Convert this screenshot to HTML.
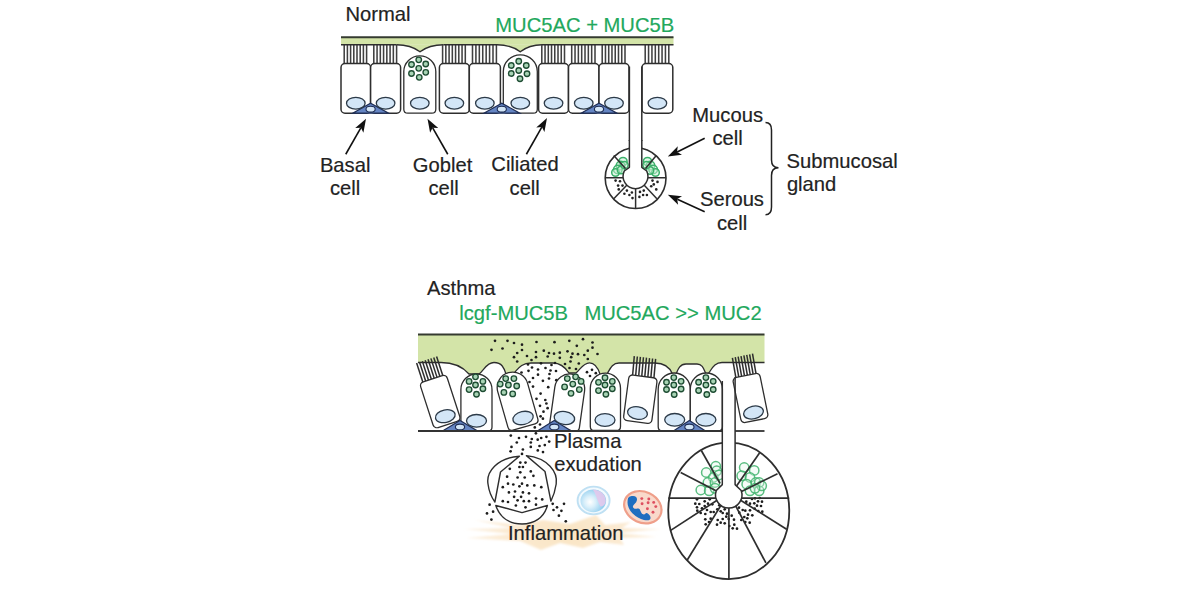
<!DOCTYPE html>
<html><head><meta charset="utf-8"><style>
html,body{margin:0;padding:0;background:#fff;width:1200px;height:600px;overflow:hidden}
svg{display:block;font-family:"Liberation Sans",sans-serif}
</style></head><body>
<svg width="1200" height="600" viewBox="0 0 1200 600">
<rect x="341" y="37.2" width="332.5" height="7.599999999999994" fill="#d3e4a8"/>
<path d="M396.5 44.8 C406.5 44.8 414 47.3 420 51.8 C426 47.3 433.5 44.8 443.5 44.8 Z" fill="#d3e4a8"/>
<path d="M396.5 44.8 C406.5 44.8 414 47.3 420 51.8 C426 47.3 433.5 44.8 443.5 44.8" fill="none" stroke="#2e2e2e" stroke-width="1.4"/>
<path d="M497 44.8 C507 44.8 514.2 47.3 520.2 51.8 C526.2 47.3 532 44.8 542 44.8 Z" fill="#d3e4a8"/>
<path d="M497 44.8 C507 44.8 514.2 47.3 520.2 51.8 C526.2 47.3 532 44.8 542 44.8" fill="none" stroke="#2e2e2e" stroke-width="1.4"/>
<line x1="341" y1="37.2" x2="673.5" y2="37.2" stroke="#353b30" stroke-width="2"/>
<line x1="344.2" y1="44.8" x2="344.2" y2="63.6" stroke="#404040" stroke-width="1.55"/>
<line x1="347.4" y1="44.8" x2="347.4" y2="63.6" stroke="#404040" stroke-width="1.55"/>
<line x1="350.6" y1="44.8" x2="350.6" y2="63.6" stroke="#404040" stroke-width="1.55"/>
<line x1="353.8" y1="44.8" x2="353.8" y2="63.6" stroke="#404040" stroke-width="1.55"/>
<line x1="357" y1="44.8" x2="357" y2="63.6" stroke="#404040" stroke-width="1.55"/>
<line x1="360.2" y1="44.8" x2="360.2" y2="63.6" stroke="#404040" stroke-width="1.55"/>
<line x1="363.4" y1="44.8" x2="363.4" y2="63.6" stroke="#404040" stroke-width="1.55"/>
<line x1="366.6" y1="44.8" x2="366.6" y2="63.6" stroke="#404040" stroke-width="1.55"/>
<line x1="373.8" y1="44.8" x2="373.8" y2="63.6" stroke="#404040" stroke-width="1.55"/>
<line x1="377.06" y1="44.8" x2="377.06" y2="63.6" stroke="#404040" stroke-width="1.55"/>
<line x1="380.31" y1="44.8" x2="380.31" y2="63.6" stroke="#404040" stroke-width="1.55"/>
<line x1="383.57" y1="44.8" x2="383.57" y2="63.6" stroke="#404040" stroke-width="1.55"/>
<line x1="386.83" y1="44.8" x2="386.83" y2="63.6" stroke="#404040" stroke-width="1.55"/>
<line x1="390.09" y1="44.8" x2="390.09" y2="63.6" stroke="#404040" stroke-width="1.55"/>
<line x1="393.34" y1="44.8" x2="393.34" y2="63.6" stroke="#404040" stroke-width="1.55"/>
<line x1="396.6" y1="44.8" x2="396.6" y2="63.6" stroke="#404040" stroke-width="1.55"/>
<line x1="442.6" y1="44.8" x2="442.6" y2="63.6" stroke="#404040" stroke-width="1.55"/>
<line x1="445.84" y1="44.8" x2="445.84" y2="63.6" stroke="#404040" stroke-width="1.55"/>
<line x1="449.09" y1="44.8" x2="449.09" y2="63.6" stroke="#404040" stroke-width="1.55"/>
<line x1="452.33" y1="44.8" x2="452.33" y2="63.6" stroke="#404040" stroke-width="1.55"/>
<line x1="455.57" y1="44.8" x2="455.57" y2="63.6" stroke="#404040" stroke-width="1.55"/>
<line x1="458.81" y1="44.8" x2="458.81" y2="63.6" stroke="#404040" stroke-width="1.55"/>
<line x1="462.06" y1="44.8" x2="462.06" y2="63.6" stroke="#404040" stroke-width="1.55"/>
<line x1="465.3" y1="44.8" x2="465.3" y2="63.6" stroke="#404040" stroke-width="1.55"/>
<line x1="472.5" y1="44.8" x2="472.5" y2="63.6" stroke="#404040" stroke-width="1.55"/>
<line x1="475.91" y1="44.8" x2="475.91" y2="63.6" stroke="#404040" stroke-width="1.55"/>
<line x1="479.33" y1="44.8" x2="479.33" y2="63.6" stroke="#404040" stroke-width="1.55"/>
<line x1="482.74" y1="44.8" x2="482.74" y2="63.6" stroke="#404040" stroke-width="1.55"/>
<line x1="486.16" y1="44.8" x2="486.16" y2="63.6" stroke="#404040" stroke-width="1.55"/>
<line x1="489.57" y1="44.8" x2="489.57" y2="63.6" stroke="#404040" stroke-width="1.55"/>
<line x1="492.99" y1="44.8" x2="492.99" y2="63.6" stroke="#404040" stroke-width="1.55"/>
<line x1="496.4" y1="44.8" x2="496.4" y2="63.6" stroke="#404040" stroke-width="1.55"/>
<line x1="541.8" y1="44.8" x2="541.8" y2="63.6" stroke="#404040" stroke-width="1.55"/>
<line x1="545.04" y1="44.8" x2="545.04" y2="63.6" stroke="#404040" stroke-width="1.55"/>
<line x1="548.29" y1="44.8" x2="548.29" y2="63.6" stroke="#404040" stroke-width="1.55"/>
<line x1="551.53" y1="44.8" x2="551.53" y2="63.6" stroke="#404040" stroke-width="1.55"/>
<line x1="554.77" y1="44.8" x2="554.77" y2="63.6" stroke="#404040" stroke-width="1.55"/>
<line x1="558.01" y1="44.8" x2="558.01" y2="63.6" stroke="#404040" stroke-width="1.55"/>
<line x1="561.26" y1="44.8" x2="561.26" y2="63.6" stroke="#404040" stroke-width="1.55"/>
<line x1="564.5" y1="44.8" x2="564.5" y2="63.6" stroke="#404040" stroke-width="1.55"/>
<line x1="571.7" y1="44.8" x2="571.7" y2="63.6" stroke="#404040" stroke-width="1.55"/>
<line x1="575.03" y1="44.8" x2="575.03" y2="63.6" stroke="#404040" stroke-width="1.55"/>
<line x1="578.36" y1="44.8" x2="578.36" y2="63.6" stroke="#404040" stroke-width="1.55"/>
<line x1="581.69" y1="44.8" x2="581.69" y2="63.6" stroke="#404040" stroke-width="1.55"/>
<line x1="585.01" y1="44.8" x2="585.01" y2="63.6" stroke="#404040" stroke-width="1.55"/>
<line x1="588.34" y1="44.8" x2="588.34" y2="63.6" stroke="#404040" stroke-width="1.55"/>
<line x1="591.67" y1="44.8" x2="591.67" y2="63.6" stroke="#404040" stroke-width="1.55"/>
<line x1="595" y1="44.8" x2="595" y2="63.6" stroke="#404040" stroke-width="1.55"/>
<line x1="602.2" y1="44.8" x2="602.2" y2="63.6" stroke="#404040" stroke-width="1.55"/>
<line x1="605.46" y1="44.8" x2="605.46" y2="63.6" stroke="#404040" stroke-width="1.55"/>
<line x1="608.71" y1="44.8" x2="608.71" y2="63.6" stroke="#404040" stroke-width="1.55"/>
<line x1="611.97" y1="44.8" x2="611.97" y2="63.6" stroke="#404040" stroke-width="1.55"/>
<line x1="615.23" y1="44.8" x2="615.23" y2="63.6" stroke="#404040" stroke-width="1.55"/>
<line x1="618.49" y1="44.8" x2="618.49" y2="63.6" stroke="#404040" stroke-width="1.55"/>
<line x1="621.74" y1="44.8" x2="621.74" y2="63.6" stroke="#404040" stroke-width="1.55"/>
<line x1="625" y1="44.8" x2="625" y2="63.6" stroke="#404040" stroke-width="1.55"/>
<line x1="645.2" y1="44.8" x2="645.2" y2="63.6" stroke="#404040" stroke-width="1.55"/>
<line x1="648.57" y1="44.8" x2="648.57" y2="63.6" stroke="#404040" stroke-width="1.55"/>
<line x1="651.94" y1="44.8" x2="651.94" y2="63.6" stroke="#404040" stroke-width="1.55"/>
<line x1="655.31" y1="44.8" x2="655.31" y2="63.6" stroke="#404040" stroke-width="1.55"/>
<line x1="658.69" y1="44.8" x2="658.69" y2="63.6" stroke="#404040" stroke-width="1.55"/>
<line x1="662.06" y1="44.8" x2="662.06" y2="63.6" stroke="#404040" stroke-width="1.55"/>
<line x1="665.43" y1="44.8" x2="665.43" y2="63.6" stroke="#404040" stroke-width="1.55"/>
<line x1="668.8" y1="44.8" x2="668.8" y2="63.6" stroke="#404040" stroke-width="1.55"/>
<line x1="341" y1="44.8" x2="396.5" y2="44.8" stroke="#2e2e2e" stroke-width="1.4"/>
<line x1="443.5" y1="44.8" x2="497" y2="44.8" stroke="#2e2e2e" stroke-width="1.4"/>
<line x1="542" y1="44.8" x2="673.5" y2="44.8" stroke="#2e2e2e" stroke-width="1.4"/>
<rect x="341" y="63.6" width="29.6" height="49.6" rx="4" fill="#fff" stroke="#2e2e2e" stroke-width="1.5" />
<rect x="370.6" y="63.6" width="30" height="49.6" rx="4" fill="#fff" stroke="#2e2e2e" stroke-width="1.5" />
<path d="M403.8 109.2 L403.8 71.6 A16 15.68 0 0 1 435.8 71.6 L435.8 109.2 Q435.8 113.2 431.8 113.2 L407.8 113.2 Q403.8 113.2 403.8 109.2 Z" fill="#fff" stroke="#2e2e2e" stroke-width="1.3"/>
<rect x="439.4" y="63.6" width="29.9" height="49.6" rx="4" fill="#fff" stroke="#2e2e2e" stroke-width="1.5" />
<rect x="469.3" y="63.6" width="31.1" height="49.6" rx="4" fill="#fff" stroke="#2e2e2e" stroke-width="1.5" />
<path d="M503.3 109.2 L503.3 71.6 A17 16.66 0 0 1 537.3 71.6 L537.3 109.2 Q537.3 113.2 533.3 113.2 L507.3 113.2 Q503.3 113.2 503.3 109.2 Z" fill="#fff" stroke="#2e2e2e" stroke-width="1.3"/>
<rect x="538.6" y="63.6" width="29.9" height="49.6" rx="4" fill="#fff" stroke="#2e2e2e" stroke-width="1.5" />
<rect x="568.5" y="63.6" width="30.5" height="49.6" rx="4" fill="#fff" stroke="#2e2e2e" stroke-width="1.5" />
<rect x="599" y="63.6" width="30" height="49.6" rx="4" fill="#fff" stroke="#2e2e2e" stroke-width="1.5" />
<rect x="642" y="63.6" width="30.8" height="49.6" rx="4" fill="#fff" stroke="#2e2e2e" stroke-width="1.5" />
<circle cx="418.75" cy="59.8" r="2.75" fill="#a8d4b5" stroke="#1e4d33" stroke-width="1.35"/>
<circle cx="411.5" cy="64.5" r="2.75" fill="#a8d4b5" stroke="#1e4d33" stroke-width="1.35"/>
<circle cx="425.75" cy="64" r="2.75" fill="#a8d4b5" stroke="#1e4d33" stroke-width="1.35"/>
<circle cx="418.75" cy="68.3" r="2.75" fill="#a8d4b5" stroke="#1e4d33" stroke-width="1.35"/>
<circle cx="411.5" cy="73.5" r="2.75" fill="#a8d4b5" stroke="#1e4d33" stroke-width="1.35"/>
<circle cx="425.75" cy="72.3" r="2.75" fill="#a8d4b5" stroke="#1e4d33" stroke-width="1.35"/>
<circle cx="419.25" cy="77.3" r="2.75" fill="#a8d4b5" stroke="#1e4d33" stroke-width="1.35"/>
<circle cx="518.75" cy="61.25" r="2.75" fill="#a8d4b5" stroke="#1e4d33" stroke-width="1.35"/>
<circle cx="511.25" cy="65.5" r="2.75" fill="#a8d4b5" stroke="#1e4d33" stroke-width="1.35"/>
<circle cx="526.25" cy="65.5" r="2.75" fill="#a8d4b5" stroke="#1e4d33" stroke-width="1.35"/>
<circle cx="518.75" cy="70.5" r="2.75" fill="#a8d4b5" stroke="#1e4d33" stroke-width="1.35"/>
<circle cx="511.25" cy="73.5" r="2.75" fill="#a8d4b5" stroke="#1e4d33" stroke-width="1.35"/>
<circle cx="527" cy="73.75" r="2.75" fill="#a8d4b5" stroke="#1e4d33" stroke-width="1.35"/>
<circle cx="520" cy="78.75" r="2.75" fill="#a8d4b5" stroke="#1e4d33" stroke-width="1.35"/>
<path d="M352.6 113.2 L370.6 103.2 L388.6 113.2 Z" fill="#6585c3" stroke="#1f2e55" stroke-width="1.2"/>
<ellipse cx="370.6" cy="109.2" rx="4.6" ry="2.9" fill="#d3e6f7" stroke="#1f2e55" stroke-width="1.1"/>
<path d="M483.8 113.2 L501.8 103.2 L519.8 113.2 Z" fill="#6585c3" stroke="#1f2e55" stroke-width="1.2"/>
<ellipse cx="501.8" cy="109.2" rx="4.6" ry="2.9" fill="#d3e6f7" stroke="#1f2e55" stroke-width="1.1"/>
<path d="M581 113.2 L599 103.2 L617 113.2 Z" fill="#6585c3" stroke="#1f2e55" stroke-width="1.2"/>
<ellipse cx="599" cy="109.2" rx="4.6" ry="2.9" fill="#d3e6f7" stroke="#1f2e55" stroke-width="1.1"/>
<ellipse cx="355.8" cy="103.2" rx="9.3" ry="5.9" fill="#d3e6f7" stroke="#2c3a48" stroke-width="1.3" transform="rotate(0 355.8 103.2)"/>
<ellipse cx="385.6" cy="103.2" rx="9.3" ry="5.9" fill="#d3e6f7" stroke="#2c3a48" stroke-width="1.3" transform="rotate(0 385.6 103.2)"/>
<ellipse cx="419.8" cy="103.2" rx="9.3" ry="5.9" fill="#d3e6f7" stroke="#2c3a48" stroke-width="1.3" transform="rotate(0 419.8 103.2)"/>
<ellipse cx="454.35" cy="103.2" rx="9.3" ry="5.9" fill="#d3e6f7" stroke="#2c3a48" stroke-width="1.3" transform="rotate(0 454.35 103.2)"/>
<ellipse cx="484.85" cy="103.2" rx="9.3" ry="5.9" fill="#d3e6f7" stroke="#2c3a48" stroke-width="1.3" transform="rotate(0 484.85 103.2)"/>
<ellipse cx="520.3" cy="103.2" rx="9.3" ry="5.9" fill="#d3e6f7" stroke="#2c3a48" stroke-width="1.3" transform="rotate(0 520.3 103.2)"/>
<ellipse cx="553.55" cy="103.2" rx="9.3" ry="5.9" fill="#d3e6f7" stroke="#2c3a48" stroke-width="1.3" transform="rotate(0 553.55 103.2)"/>
<ellipse cx="583.75" cy="103.2" rx="9.3" ry="5.9" fill="#d3e6f7" stroke="#2c3a48" stroke-width="1.3" transform="rotate(0 583.75 103.2)"/>
<ellipse cx="614" cy="103.2" rx="9.3" ry="5.9" fill="#d3e6f7" stroke="#2c3a48" stroke-width="1.3" transform="rotate(0 614 103.2)"/>
<ellipse cx="657.4" cy="103.2" rx="9.3" ry="5.9" fill="#d3e6f7" stroke="#2c3a48" stroke-width="1.3" transform="rotate(0 657.4 103.2)"/>
<line x1="629.4" y1="66.6" x2="629.4" y2="141" stroke="#2e2e2e" stroke-width="1.5"/>
<line x1="641.8" y1="66.6" x2="641.8" y2="141" stroke="#2e2e2e" stroke-width="1.5"/>
<circle cx="635.6" cy="178.1" r="30.4" fill="#fff" stroke="#2e2e2e" stroke-width="1.6"/>
<defs><filter id="bl" x="-20%" y="-20%" width="140%" height="140%"><feGaussianBlur stdDeviation="0.45"/></filter></defs>
<g filter="url(#bl)">
<circle cx="623" cy="161.5" r="4.1" fill="#c9f0d4" fill-opacity="0.5" stroke="#3bb06a" stroke-width="1.5"/>
<circle cx="620.5" cy="165.5" r="4.3" fill="#c9f0d4" fill-opacity="0.5" stroke="#3bb06a" stroke-width="1.5"/>
<circle cx="617.8" cy="169.5" r="4.3" fill="#c9f0d4" fill-opacity="0.5" stroke="#3bb06a" stroke-width="1.5"/>
<circle cx="615.5" cy="172.5" r="3.8" fill="#c9f0d4" fill-opacity="0.5" stroke="#3bb06a" stroke-width="1.5"/>
<circle cx="621" cy="170" r="3.7" fill="#c9f0d4" fill-opacity="0.5" stroke="#3bb06a" stroke-width="1.5"/>
<circle cx="624.5" cy="165" r="3.6" fill="#c9f0d4" fill-opacity="0.5" stroke="#3bb06a" stroke-width="1.5"/>
<circle cx="647.5" cy="161.5" r="4.1" fill="#c9f0d4" fill-opacity="0.5" stroke="#3bb06a" stroke-width="1.5"/>
<circle cx="650.5" cy="165.5" r="4.3" fill="#c9f0d4" fill-opacity="0.5" stroke="#3bb06a" stroke-width="1.5"/>
<circle cx="653.2" cy="169.5" r="4.3" fill="#c9f0d4" fill-opacity="0.5" stroke="#3bb06a" stroke-width="1.5"/>
<circle cx="655.5" cy="172.5" r="3.8" fill="#c9f0d4" fill-opacity="0.5" stroke="#3bb06a" stroke-width="1.5"/>
<circle cx="650" cy="170.5" r="3.7" fill="#c9f0d4" fill-opacity="0.5" stroke="#3bb06a" stroke-width="1.5"/>
<circle cx="646.5" cy="165" r="3.6" fill="#c9f0d4" fill-opacity="0.5" stroke="#3bb06a" stroke-width="1.5"/>
</g>
<line x1="613.75" y1="155.6" x2="625.5" y2="168.5" stroke="#2e2e2e" stroke-width="1.5"/>
<line x1="605.25" y1="177.75" x2="624" y2="177.75" stroke="#2e2e2e" stroke-width="1.5"/>
<line x1="613.75" y1="198.75" x2="627" y2="185" stroke="#2e2e2e" stroke-width="1.5"/>
<line x1="635.6" y1="208.5" x2="635.6" y2="186" stroke="#2e2e2e" stroke-width="1.5"/>
<line x1="656.9" y1="198.75" x2="644" y2="185" stroke="#2e2e2e" stroke-width="1.5"/>
<line x1="666" y1="177.75" x2="647" y2="177.75" stroke="#2e2e2e" stroke-width="1.5"/>
<line x1="656.25" y1="155.6" x2="645.5" y2="168.5" stroke="#2e2e2e" stroke-width="1.5"/>
<path d="M629.4 140 L629.4 167.3 L624.3 171 A12.4 12.4 0 1 0 646.7 171 L641.8 167.3 L641.8 140" fill="#fff" stroke="#2e2e2e" stroke-width="1.5" stroke-linejoin="round"/>
<circle cx="615.6" cy="180.6" r="1.3" fill="#222"/>
<circle cx="620" cy="181.25" r="1.3" fill="#222"/>
<circle cx="618.1" cy="185.6" r="1.3" fill="#222"/>
<circle cx="622.5" cy="185.6" r="1.3" fill="#222"/>
<circle cx="618.75" cy="189.4" r="1.3" fill="#222"/>
<circle cx="626.9" cy="190.6" r="1.3" fill="#222"/>
<circle cx="624.4" cy="193.75" r="1.3" fill="#222"/>
<circle cx="629.4" cy="195" r="1.3" fill="#222"/>
<circle cx="631.9" cy="192.5" r="1.3" fill="#222"/>
<circle cx="632.5" cy="198.1" r="1.3" fill="#222"/>
<circle cx="640" cy="191.9" r="1.3" fill="#222"/>
<circle cx="643.75" cy="190.6" r="1.3" fill="#222"/>
<circle cx="643.1" cy="195" r="1.3" fill="#222"/>
<circle cx="639.4" cy="196.9" r="1.3" fill="#222"/>
<circle cx="646.9" cy="195" r="1.3" fill="#222"/>
<circle cx="652.5" cy="180.6" r="1.3" fill="#222"/>
<circle cx="657.5" cy="181.9" r="1.3" fill="#222"/>
<circle cx="653.75" cy="184.4" r="1.3" fill="#222"/>
<circle cx="651.25" cy="186.25" r="1.3" fill="#222"/>
<circle cx="656.25" cy="189.4" r="1.3" fill="#222"/>
<line x1="345.75" y1="154.25" x2="360.8" y2="127.82" stroke="#111" stroke-width="1.6"/>
<path d="M366 118.7 L363.4 132.76 L360.9 127.65 L355.23 128.1 Z" fill="#111"/>
<line x1="447.75" y1="154.25" x2="432.7" y2="127.82" stroke="#111" stroke-width="1.6"/>
<path d="M427.5 118.7 L438.27 128.1 L432.6 127.65 L430.1 132.76 Z" fill="#111"/>
<line x1="526.4" y1="154.25" x2="541.81" y2="127.13" stroke="#111" stroke-width="1.6"/>
<path d="M547 118 L544.42 132.06 L541.91 126.96 L536.24 127.42 Z" fill="#111"/>
<line x1="704.7" y1="138.2" x2="677.2" y2="151.91" stroke="#111" stroke-width="1.6"/>
<path d="M667.8 156.6 L677.78 146.37 L677.02 152 L681.98 154.78 Z" fill="#111"/>
<line x1="704.7" y1="211.8" x2="677.34" y2="199.19" stroke="#111" stroke-width="1.6"/>
<path d="M667.8 194.8 L682.03 196.18 L677.15 199.11 L678.09 204.72 Z" fill="#111"/>
<path d="M765.5 122.6 Q771.5 122.6 771.5 130 L771.5 160 Q771.5 167.8 778.5 167.8 Q771.5 167.8 771.5 175.5 L771.5 207 Q771.5 214.7 765.5 214.7" fill="none" stroke="#222" stroke-width="1.5"/>
<path d="M418 362.5 L441 362.5 C452 362.5 462 366 469 374 L479 374 C484 371 486 362.5 494 362.5 C502 362.5 504 368 506 374 L514 373 C518 369 521 363 531 363 L553 363 C560 363 565 367 569 373 L576 373 C580 370 583 362.8 589.5 362.8 C595 362.8 598 368 600 374 L607 374 C610 369 612 363 619 363 L655 363 C664 363 670 368 672.5 374 L676 374 C678 369 680 364 686 364 L697 364 C703 364 704 370 706 374 L708 374 C712 369 714 362.5 722 362.5 L764.5 362.5 L764.5 334.6 L418 334.6 Z" fill="#d3e4a8"/>
<path d="M418 362.5 L441 362.5 C452 362.5 462 366 469 374 L479 374 C484 371 486 362.5 494 362.5 C502 362.5 504 368 506 374 L514 373 C518 369 521 363 531 363 L553 363 C560 363 565 367 569 373 L576 373 C580 370 583 362.8 589.5 362.8 C595 362.8 598 368 600 374 L607 374 C610 369 612 363 619 363 L655 363 C664 363 670 368 672.5 374 L676 374 C678 369 680 364 686 364 L697 364 C703 364 704 370 706 374 L708 374 C712 369 714 362.5 722 362.5 L764.5 362.5" fill="none" stroke="#2e2e2e" stroke-width="1.3"/>
<line x1="418" y1="334.6" x2="764.5" y2="334.6" stroke="#353b30" stroke-width="2"/>
<circle cx="495" cy="340.8" r="1.35" fill="#1d1d1d"/>
<circle cx="507.5" cy="340.8" r="1.35" fill="#1d1d1d"/>
<circle cx="514" cy="343" r="1.35" fill="#1d1d1d"/>
<circle cx="522" cy="344.7" r="1.35" fill="#1d1d1d"/>
<circle cx="536.5" cy="342" r="1.35" fill="#1d1d1d"/>
<circle cx="554.5" cy="342.2" r="1.35" fill="#1d1d1d"/>
<circle cx="569.3" cy="340.8" r="1.35" fill="#1d1d1d"/>
<circle cx="583" cy="339.2" r="1.35" fill="#1d1d1d"/>
<circle cx="592.5" cy="342.5" r="1.35" fill="#1d1d1d"/>
<circle cx="491.5" cy="349.8" r="1.35" fill="#1d1d1d"/>
<circle cx="502.5" cy="348.5" r="1.35" fill="#1d1d1d"/>
<circle cx="522" cy="350" r="1.35" fill="#1d1d1d"/>
<circle cx="517.2" cy="353" r="1.35" fill="#1d1d1d"/>
<circle cx="536" cy="352" r="1.35" fill="#1d1d1d"/>
<circle cx="543.8" cy="350.7" r="1.35" fill="#1d1d1d"/>
<circle cx="549" cy="353" r="1.35" fill="#1d1d1d"/>
<circle cx="554" cy="353.7" r="1.35" fill="#1d1d1d"/>
<circle cx="559.8" cy="352.7" r="1.35" fill="#1d1d1d"/>
<circle cx="567.5" cy="351.3" r="1.35" fill="#1d1d1d"/>
<circle cx="576.8" cy="345.8" r="1.35" fill="#1d1d1d"/>
<circle cx="592.5" cy="347.7" r="1.35" fill="#1d1d1d"/>
<circle cx="587.8" cy="350.7" r="1.35" fill="#1d1d1d"/>
<circle cx="572.5" cy="353.7" r="1.35" fill="#1d1d1d"/>
<circle cx="578" cy="354.2" r="1.35" fill="#1d1d1d"/>
<circle cx="584.3" cy="355" r="1.35" fill="#1d1d1d"/>
<circle cx="597.5" cy="354" r="1.35" fill="#1d1d1d"/>
<circle cx="514" cy="357.2" r="1.35" fill="#1d1d1d"/>
<circle cx="527" cy="356" r="1.35" fill="#1d1d1d"/>
<circle cx="536" cy="357.2" r="1.35" fill="#1d1d1d"/>
<circle cx="547.7" cy="356.5" r="1.35" fill="#1d1d1d"/>
<circle cx="559.8" cy="357.8" r="1.35" fill="#1d1d1d"/>
<circle cx="571.2" cy="357.2" r="1.35" fill="#1d1d1d"/>
<circle cx="587.8" cy="359" r="1.35" fill="#1d1d1d"/>
<circle cx="517.2" cy="361.5" r="1.35" fill="#1d1d1d"/>
<circle cx="531.5" cy="360" r="1.35" fill="#1d1d1d"/>
<circle cx="570.5" cy="361.5" r="1.35" fill="#1d1d1d"/>
<circle cx="565" cy="364" r="1.35" fill="#1d1d1d"/>
<circle cx="578.8" cy="363.5" r="1.35" fill="#1d1d1d"/>
<circle cx="569.5" cy="368" r="1.35" fill="#1d1d1d"/>
<circle cx="576" cy="369" r="1.35" fill="#1d1d1d"/>
<circle cx="528" cy="364.5" r="1.35" fill="#1d1d1d"/>
<circle cx="541" cy="363.3" r="1.35" fill="#1d1d1d"/>
<circle cx="551.5" cy="365" r="1.35" fill="#1d1d1d"/>
<circle cx="555" cy="363" r="1.35" fill="#1d1d1d"/>
<circle cx="532" cy="367.5" r="1.35" fill="#1d1d1d"/>
<circle cx="538" cy="369.5" r="1.35" fill="#1d1d1d"/>
<circle cx="545.5" cy="368" r="1.35" fill="#1d1d1d"/>
<circle cx="550.5" cy="370.5" r="1.35" fill="#1d1d1d"/>
<circle cx="556" cy="371" r="1.35" fill="#1d1d1d"/>
<circle cx="521.5" cy="372.5" r="1.35" fill="#1d1d1d"/>
<circle cx="528.5" cy="370.8" r="1.35" fill="#1d1d1d"/>
<circle cx="538" cy="374.7" r="1.35" fill="#1d1d1d"/>
<circle cx="549.5" cy="374" r="1.35" fill="#1d1d1d"/>
<circle cx="533" cy="378" r="1.35" fill="#1d1d1d"/>
<circle cx="549" cy="378.5" r="1.35" fill="#1d1d1d"/>
<circle cx="587" cy="372.2" r="1.35" fill="#1d1d1d"/>
<circle cx="592" cy="369.8" r="1.35" fill="#1d1d1d"/>
<circle cx="595.8" cy="373.2" r="1.35" fill="#1d1d1d"/>
<circle cx="590" cy="376" r="1.35" fill="#1d1d1d"/>
<circle cx="529.5" cy="382" r="1.35" fill="#1d1d1d"/>
<circle cx="542.9" cy="380.8" r="1.35" fill="#1d1d1d"/>
<circle cx="556.3" cy="380.2" r="1.35" fill="#1d1d1d"/>
<circle cx="533" cy="386.6" r="1.35" fill="#1d1d1d"/>
<circle cx="548.2" cy="387.2" r="1.35" fill="#1d1d1d"/>
<circle cx="540.6" cy="393.6" r="1.35" fill="#1d1d1d"/>
<circle cx="536.5" cy="398.8" r="1.35" fill="#1d1d1d"/>
<circle cx="545.3" cy="400" r="1.35" fill="#1d1d1d"/>
<circle cx="546.4" cy="403.5" r="1.35" fill="#1d1d1d"/>
<circle cx="540" cy="405.8" r="1.35" fill="#1d1d1d"/>
<circle cx="547.6" cy="408.2" r="1.35" fill="#1d1d1d"/>
<circle cx="543.5" cy="411.7" r="1.35" fill="#1d1d1d"/>
<circle cx="540.6" cy="416.3" r="1.35" fill="#1d1d1d"/>
<circle cx="542.9" cy="418.7" r="1.35" fill="#1d1d1d"/>
<circle cx="540" cy="424.5" r="1.35" fill="#1d1d1d"/>
<circle cx="534.8" cy="427.4" r="1.35" fill="#1d1d1d"/>
<line x1="422.8" y1="382.02" x2="416.62" y2="363" stroke="#2e2e2e" stroke-width="1.5"/>
<line x1="425.65" y1="381.09" x2="419.47" y2="362.07" stroke="#2e2e2e" stroke-width="1.5"/>
<line x1="428.5" y1="380.17" x2="422.32" y2="361.14" stroke="#2e2e2e" stroke-width="1.5"/>
<line x1="431.36" y1="379.24" x2="425.18" y2="360.22" stroke="#2e2e2e" stroke-width="1.5"/>
<line x1="434.21" y1="378.31" x2="428.03" y2="359.29" stroke="#2e2e2e" stroke-width="1.5"/>
<line x1="437.06" y1="377.38" x2="430.88" y2="358.36" stroke="#2e2e2e" stroke-width="1.5"/>
<line x1="439.92" y1="376.46" x2="433.74" y2="357.44" stroke="#2e2e2e" stroke-width="1.5"/>
<line x1="442.77" y1="375.53" x2="436.59" y2="356.51" stroke="#2e2e2e" stroke-width="1.5"/>
<rect x="426.2" y="377.6" width="28" height="48" rx="4" fill="#fff" stroke="#2e2e2e" stroke-width="1.3" transform="rotate(-18 440.2 401.6)"/>
<ellipse cx="445.3" cy="416.2" rx="10" ry="6.3" fill="#d3e6f7" stroke="#2c3a48" stroke-width="1.3" transform="rotate(-12 445.3 416.2)"/>
<path d="M460.9 427 L460.9 389.55 A15.55 15.55 0 0 1 492 389.55 L492 427 Q492 431 488 431 L464.9 431 Q460.9 431 460.9 427 Z" fill="#fff" stroke="#2e2e2e" stroke-width="1.3" transform="rotate(0 476.45 431)"/>
<path d="M508.5 423 L508.5 386 A15.5 15.5 0 0 1 539.5 386 L539.5 423 Q539.5 427 535.5 427 L512.5 427 Q508.5 427 508.5 423 Z" fill="#fff" stroke="#2e2e2e" stroke-width="1.3" transform="rotate(-16 524 427)"/>
<path d="M549 425.5 L549 388.5 A15 15 0 0 1 579 388.5 L579 425.5 Q579 429.5 575 429.5 L553 429.5 Q549 429.5 549 425.5 Z" fill="#fff" stroke="#2e2e2e" stroke-width="1.3" transform="rotate(8 564 429.5)"/>
<path d="M590.3 426.5 L590.3 388.2 A15.1 15.1 0 0 1 620.5 388.2 L620.5 426.5 Q620.5 430.5 616.5 430.5 L594.3 430.5 Q590.3 430.5 590.3 426.5 Z" fill="#fff" stroke="#2e2e2e" stroke-width="1.3" transform="rotate(0 605.4 430.5)"/>
<line x1="632.64" y1="374.99" x2="634.3" y2="356.07" stroke="#2e2e2e" stroke-width="1.5"/>
<line x1="635.69" y1="375.39" x2="637.35" y2="356.47" stroke="#2e2e2e" stroke-width="1.5"/>
<line x1="638.73" y1="375.8" x2="640.39" y2="356.87" stroke="#2e2e2e" stroke-width="1.5"/>
<line x1="641.78" y1="376.2" x2="643.44" y2="357.27" stroke="#2e2e2e" stroke-width="1.5"/>
<line x1="644.82" y1="376.6" x2="646.48" y2="357.67" stroke="#2e2e2e" stroke-width="1.5"/>
<line x1="647.87" y1="377" x2="649.53" y2="358.07" stroke="#2e2e2e" stroke-width="1.5"/>
<line x1="650.91" y1="377.4" x2="652.57" y2="358.47" stroke="#2e2e2e" stroke-width="1.5"/>
<line x1="653.96" y1="377.8" x2="655.62" y2="358.87" stroke="#2e2e2e" stroke-width="1.5"/>
<rect x="626.05" y="376.2" width="28.5" height="46" rx="4" fill="#fff" stroke="#2e2e2e" stroke-width="1.3" transform="rotate(7.5 640.3 399.2)"/>
<ellipse cx="637.5" cy="413" rx="10" ry="6.3" fill="#d3e6f7" stroke="#2c3a48" stroke-width="1.3" transform="rotate(9 637.5 413)"/>
<path d="M658.2 426.8 L658.2 389.05 A16.05 16.05 0 0 1 690.3 389.05 L690.3 426.8 Q690.3 430.8 686.3 430.8 L662.2 430.8 Q658.2 430.8 658.2 426.8 Z" fill="#fff" stroke="#2e2e2e" stroke-width="1.3" transform="rotate(0 674.25 430.8)"/>
<path d="M690.3 426.8 L690.3 389.05 A16.05 16.05 0 0 1 722.4 389.05 L722.4 426.8 Q722.4 430.8 718.4 430.8 L694.3 430.8 Q690.3 430.8 690.3 426.8 Z" fill="#fff" stroke="#2e2e2e" stroke-width="1.3" transform="rotate(0 706.35 430.8)"/>
<line x1="735.87" y1="377.51" x2="732.4" y2="357.81" stroke="#2e2e2e" stroke-width="1.5"/>
<line x1="738.74" y1="376.92" x2="735.27" y2="357.23" stroke="#2e2e2e" stroke-width="1.5"/>
<line x1="741.61" y1="376.34" x2="738.14" y2="356.64" stroke="#2e2e2e" stroke-width="1.5"/>
<line x1="744.48" y1="375.75" x2="741.01" y2="356.06" stroke="#2e2e2e" stroke-width="1.5"/>
<line x1="747.35" y1="375.17" x2="743.88" y2="355.47" stroke="#2e2e2e" stroke-width="1.5"/>
<line x1="750.22" y1="374.59" x2="746.75" y2="354.89" stroke="#2e2e2e" stroke-width="1.5"/>
<line x1="753.09" y1="374" x2="749.62" y2="354.31" stroke="#2e2e2e" stroke-width="1.5"/>
<line x1="755.96" y1="373.42" x2="752.49" y2="353.72" stroke="#2e2e2e" stroke-width="1.5"/>
<rect x="736.75" y="375" width="27.5" height="46" rx="4" fill="#fff" stroke="#2e2e2e" stroke-width="1.3" transform="rotate(-11.5 750.5 398)"/>
<ellipse cx="753.5" cy="412.5" rx="10" ry="6.3" fill="#d3e6f7" stroke="#2c3a48" stroke-width="1.3" transform="rotate(-13 753.5 412.5)"/>
<circle cx="475.5" cy="376.8" r="2.75" fill="#a8d4b5" stroke="#1e4d33" stroke-width="1.35"/>
<circle cx="469.1" cy="381.4" r="2.75" fill="#a8d4b5" stroke="#1e4d33" stroke-width="1.35"/>
<circle cx="482.9" cy="381.4" r="2.75" fill="#a8d4b5" stroke="#1e4d33" stroke-width="1.35"/>
<circle cx="475.5" cy="385" r="2.75" fill="#a8d4b5" stroke="#1e4d33" stroke-width="1.35"/>
<circle cx="469.1" cy="389.6" r="2.75" fill="#a8d4b5" stroke="#1e4d33" stroke-width="1.35"/>
<circle cx="482.9" cy="388.7" r="2.75" fill="#a8d4b5" stroke="#1e4d33" stroke-width="1.35"/>
<circle cx="476.5" cy="394.2" r="2.75" fill="#a8d4b5" stroke="#1e4d33" stroke-width="1.35"/>
<circle cx="505.7" cy="378.6" r="2.75" fill="#a8d4b5" stroke="#1e4d33" stroke-width="1.35"/>
<circle cx="513.9" cy="378.6" r="2.75" fill="#a8d4b5" stroke="#1e4d33" stroke-width="1.35"/>
<circle cx="500.2" cy="384.1" r="2.75" fill="#a8d4b5" stroke="#1e4d33" stroke-width="1.35"/>
<circle cx="508.4" cy="385" r="2.75" fill="#a8d4b5" stroke="#1e4d33" stroke-width="1.35"/>
<circle cx="516.7" cy="386" r="2.75" fill="#a8d4b5" stroke="#1e4d33" stroke-width="1.35"/>
<circle cx="503.9" cy="392.4" r="2.75" fill="#a8d4b5" stroke="#1e4d33" stroke-width="1.35"/>
<circle cx="512.7" cy="393.9" r="2.75" fill="#a8d4b5" stroke="#1e4d33" stroke-width="1.35"/>
<circle cx="567.3" cy="378.6" r="2.75" fill="#a8d4b5" stroke="#1e4d33" stroke-width="1.35"/>
<circle cx="575.6" cy="376.8" r="2.75" fill="#a8d4b5" stroke="#1e4d33" stroke-width="1.35"/>
<circle cx="581.1" cy="381.4" r="2.75" fill="#a8d4b5" stroke="#1e4d33" stroke-width="1.35"/>
<circle cx="572.8" cy="384.1" r="2.75" fill="#a8d4b5" stroke="#1e4d33" stroke-width="1.35"/>
<circle cx="564.6" cy="386.9" r="2.75" fill="#a8d4b5" stroke="#1e4d33" stroke-width="1.35"/>
<circle cx="579.3" cy="389.6" r="2.75" fill="#a8d4b5" stroke="#1e4d33" stroke-width="1.35"/>
<circle cx="571" cy="393.3" r="2.75" fill="#a8d4b5" stroke="#1e4d33" stroke-width="1.35"/>
<circle cx="605" cy="377.7" r="2.75" fill="#a8d4b5" stroke="#1e4d33" stroke-width="1.35"/>
<circle cx="598.5" cy="382.3" r="2.75" fill="#a8d4b5" stroke="#1e4d33" stroke-width="1.35"/>
<circle cx="612.3" cy="381.4" r="2.75" fill="#a8d4b5" stroke="#1e4d33" stroke-width="1.35"/>
<circle cx="605" cy="385" r="2.75" fill="#a8d4b5" stroke="#1e4d33" stroke-width="1.35"/>
<circle cx="598.5" cy="390.6" r="2.75" fill="#a8d4b5" stroke="#1e4d33" stroke-width="1.35"/>
<circle cx="612.3" cy="388.7" r="2.75" fill="#a8d4b5" stroke="#1e4d33" stroke-width="1.35"/>
<circle cx="605.9" cy="394.2" r="2.75" fill="#a8d4b5" stroke="#1e4d33" stroke-width="1.35"/>
<circle cx="673.8" cy="377.6" r="2.75" fill="#a8d4b5" stroke="#1e4d33" stroke-width="1.35"/>
<circle cx="666.5" cy="382.2" r="2.75" fill="#a8d4b5" stroke="#1e4d33" stroke-width="1.35"/>
<circle cx="681.1" cy="381.3" r="2.75" fill="#a8d4b5" stroke="#1e4d33" stroke-width="1.35"/>
<circle cx="673.8" cy="385" r="2.75" fill="#a8d4b5" stroke="#1e4d33" stroke-width="1.35"/>
<circle cx="666.5" cy="389.5" r="2.75" fill="#a8d4b5" stroke="#1e4d33" stroke-width="1.35"/>
<circle cx="681.1" cy="389" r="2.75" fill="#a8d4b5" stroke="#1e4d33" stroke-width="1.35"/>
<circle cx="674.2" cy="394.5" r="2.75" fill="#a8d4b5" stroke="#1e4d33" stroke-width="1.35"/>
<circle cx="705.9" cy="377.6" r="2.75" fill="#a8d4b5" stroke="#1e4d33" stroke-width="1.35"/>
<circle cx="698.6" cy="382.2" r="2.75" fill="#a8d4b5" stroke="#1e4d33" stroke-width="1.35"/>
<circle cx="713.2" cy="381.3" r="2.75" fill="#a8d4b5" stroke="#1e4d33" stroke-width="1.35"/>
<circle cx="705.9" cy="385" r="2.75" fill="#a8d4b5" stroke="#1e4d33" stroke-width="1.35"/>
<circle cx="698.6" cy="390.5" r="2.75" fill="#a8d4b5" stroke="#1e4d33" stroke-width="1.35"/>
<circle cx="713.2" cy="389.5" r="2.75" fill="#a8d4b5" stroke="#1e4d33" stroke-width="1.35"/>
<circle cx="706.8" cy="394.5" r="2.75" fill="#a8d4b5" stroke="#1e4d33" stroke-width="1.35"/>
<path d="M442.5 431 L460 420.5 L477.5 431 Z" fill="#6585c3" stroke="#1f2e55" stroke-width="1.2"/>
<ellipse cx="460" cy="427" rx="4.6" ry="2.9" fill="#d3e6f7" stroke="#1f2e55" stroke-width="1.1"/>
<path d="M537.3 431 L554.3 420.5 L571.3 431 Z" fill="#6585c3" stroke="#1f2e55" stroke-width="1.2"/>
<ellipse cx="554.3" cy="427" rx="4.6" ry="2.9" fill="#d3e6f7" stroke="#1f2e55" stroke-width="1.1"/>
<path d="M673.4 431 L689.4 420.5 L705.4 431 Z" fill="#6585c3" stroke="#1f2e55" stroke-width="1.2"/>
<ellipse cx="689.4" cy="427" rx="4.6" ry="2.9" fill="#d3e6f7" stroke="#1f2e55" stroke-width="1.1"/>
<ellipse cx="476.5" cy="420.8" rx="10" ry="6.3" fill="#d3e6f7" stroke="#2c3a48" stroke-width="1.3" transform="rotate(0 476.5 420.8)"/>
<ellipse cx="523.1" cy="418" rx="10.3" ry="6.5" fill="#d3e6f7" stroke="#2c3a48" stroke-width="1.3" transform="rotate(-13 523.1 418)"/>
<ellipse cx="564.4" cy="418" rx="10.3" ry="6.5" fill="#d3e6f7" stroke="#2c3a48" stroke-width="1.3" transform="rotate(8 564.4 418)"/>
<ellipse cx="605" cy="420" rx="10" ry="6.3" fill="#d3e6f7" stroke="#2c3a48" stroke-width="1.3" transform="rotate(0 605 420)"/>
<ellipse cx="674.7" cy="419.8" rx="10" ry="6.3" fill="#d3e6f7" stroke="#2c3a48" stroke-width="1.3" transform="rotate(0 674.7 419.8)"/>
<ellipse cx="705.9" cy="419.8" rx="10" ry="6.3" fill="#d3e6f7" stroke="#2c3a48" stroke-width="1.3" transform="rotate(0 705.9 419.8)"/>
<line x1="418" y1="431.0" x2="722.4" y2="431.0" stroke="#333" stroke-width="1.8"/>
<line x1="734.4" y1="431.0" x2="764.5" y2="431.0" stroke="#333" stroke-width="1.8"/>
<ellipse cx="728.75" cy="510.9" rx="60.5" ry="68.2" fill="#fff" stroke="#2e2e2e" stroke-width="1.8"/>
<circle cx="697" cy="499.3" r="1.35" fill="#1d1d1d"/>
<circle cx="709.7" cy="499.3" r="1.35" fill="#1d1d1d"/>
<circle cx="695.3" cy="503.7" r="1.35" fill="#1d1d1d"/>
<circle cx="699.3" cy="504" r="1.35" fill="#1d1d1d"/>
<circle cx="704.7" cy="501.3" r="1.35" fill="#1d1d1d"/>
<circle cx="708" cy="503.7" r="1.35" fill="#1d1d1d"/>
<circle cx="712.3" cy="504.3" r="1.35" fill="#1d1d1d"/>
<circle cx="697" cy="507.3" r="1.35" fill="#1d1d1d"/>
<circle cx="704.7" cy="506" r="1.35" fill="#1d1d1d"/>
<circle cx="702" cy="508.3" r="1.35" fill="#1d1d1d"/>
<circle cx="697.3" cy="510.7" r="1.35" fill="#1d1d1d"/>
<circle cx="707" cy="510" r="1.35" fill="#1d1d1d"/>
<circle cx="700.7" cy="513" r="1.35" fill="#1d1d1d"/>
<circle cx="705.3" cy="514" r="1.35" fill="#1d1d1d"/>
<circle cx="710.7" cy="512" r="1.35" fill="#1d1d1d"/>
<circle cx="713.7" cy="512" r="1.35" fill="#1d1d1d"/>
<circle cx="717.3" cy="509.3" r="1.35" fill="#1d1d1d"/>
<circle cx="719.3" cy="505.3" r="1.35" fill="#1d1d1d"/>
<circle cx="705.3" cy="519.3" r="1.35" fill="#1d1d1d"/>
<circle cx="710.7" cy="518.7" r="1.35" fill="#1d1d1d"/>
<circle cx="709" cy="522" r="1.35" fill="#1d1d1d"/>
<circle cx="705.7" cy="524.3" r="1.35" fill="#1d1d1d"/>
<circle cx="717.7" cy="520" r="1.35" fill="#1d1d1d"/>
<circle cx="720.7" cy="511.3" r="1.35" fill="#1d1d1d"/>
<circle cx="717" cy="524.7" r="1.35" fill="#1d1d1d"/>
<circle cx="720.7" cy="522.7" r="1.35" fill="#1d1d1d"/>
<circle cx="724.7" cy="509.3" r="1.35" fill="#1d1d1d"/>
<circle cx="722.7" cy="513" r="1.35" fill="#1d1d1d"/>
<circle cx="727" cy="513.7" r="1.35" fill="#1d1d1d"/>
<circle cx="726.3" cy="516.7" r="1.35" fill="#1d1d1d"/>
<circle cx="722.7" cy="519" r="1.35" fill="#1d1d1d"/>
<circle cx="724.7" cy="523.3" r="1.35" fill="#1d1d1d"/>
<circle cx="728.7" cy="519" r="1.35" fill="#1d1d1d"/>
<circle cx="731.7" cy="515.7" r="1.35" fill="#1d1d1d"/>
<circle cx="734" cy="519.7" r="1.35" fill="#1d1d1d"/>
<circle cx="734.3" cy="524.7" r="1.35" fill="#1d1d1d"/>
<circle cx="732.7" cy="528.3" r="1.35" fill="#1d1d1d"/>
<circle cx="737" cy="528.7" r="1.35" fill="#1d1d1d"/>
<circle cx="729.3" cy="526" r="1.35" fill="#1d1d1d"/>
<circle cx="739" cy="507.7" r="1.35" fill="#1d1d1d"/>
<circle cx="742.7" cy="510" r="1.35" fill="#1d1d1d"/>
<circle cx="739.3" cy="512.7" r="1.35" fill="#1d1d1d"/>
<circle cx="745.3" cy="510.7" r="1.35" fill="#1d1d1d"/>
<circle cx="748" cy="514.7" r="1.35" fill="#1d1d1d"/>
<circle cx="752.3" cy="515.3" r="1.35" fill="#1d1d1d"/>
<circle cx="744.3" cy="517" r="1.35" fill="#1d1d1d"/>
<circle cx="747.3" cy="518.3" r="1.35" fill="#1d1d1d"/>
<circle cx="745.3" cy="522" r="1.35" fill="#1d1d1d"/>
<circle cx="749.7" cy="522.7" r="1.35" fill="#1d1d1d"/>
<circle cx="750" cy="510.3" r="1.35" fill="#1d1d1d"/>
<circle cx="741.3" cy="520" r="1.35" fill="#1d1d1d"/>
<circle cx="746.3" cy="501.7" r="1.35" fill="#1d1d1d"/>
<circle cx="750" cy="503.7" r="1.35" fill="#1d1d1d"/>
<circle cx="754.3" cy="503.3" r="1.35" fill="#1d1d1d"/>
<circle cx="758" cy="501.3" r="1.35" fill="#1d1d1d"/>
<circle cx="762" cy="501.7" r="1.35" fill="#1d1d1d"/>
<circle cx="757" cy="505.7" r="1.35" fill="#1d1d1d"/>
<circle cx="761" cy="506" r="1.35" fill="#1d1d1d"/>
<circle cx="754.7" cy="508.7" r="1.35" fill="#1d1d1d"/>
<circle cx="758.3" cy="511" r="1.35" fill="#1d1d1d"/>
<circle cx="762.3" cy="511.7" r="1.35" fill="#1d1d1d"/>
<circle cx="752" cy="499" r="1.35" fill="#1d1d1d"/>
<circle cx="755" cy="498.3" r="1.35" fill="#1d1d1d"/>
<circle cx="759.7" cy="498" r="1.35" fill="#1d1d1d"/>
<g filter="url(#bl)">
<circle cx="715.8" cy="466.25" r="4.7" fill="#e6f7ec" fill-opacity="0.35" stroke="#3fb36c" stroke-width="1.5" stroke-opacity="0.85"/>
<circle cx="716.7" cy="470.8" r="4.7" fill="#e6f7ec" fill-opacity="0.35" stroke="#3fb36c" stroke-width="1.5" stroke-opacity="0.85"/>
<circle cx="706.25" cy="472.5" r="4.7" fill="#e6f7ec" fill-opacity="0.35" stroke="#3fb36c" stroke-width="1.5" stroke-opacity="0.85"/>
<circle cx="713.3" cy="477.5" r="4.7" fill="#e6f7ec" fill-opacity="0.35" stroke="#3fb36c" stroke-width="1.5" stroke-opacity="0.85"/>
<circle cx="707.9" cy="482.5" r="4.7" fill="#e6f7ec" fill-opacity="0.35" stroke="#3fb36c" stroke-width="1.5" stroke-opacity="0.85"/>
<circle cx="715" cy="482.5" r="4.7" fill="#e6f7ec" fill-opacity="0.35" stroke="#3fb36c" stroke-width="1.5" stroke-opacity="0.85"/>
<circle cx="700.8" cy="490" r="4.7" fill="#e6f7ec" fill-opacity="0.35" stroke="#3fb36c" stroke-width="1.5" stroke-opacity="0.85"/>
<circle cx="709.2" cy="490.8" r="4.7" fill="#e6f7ec" fill-opacity="0.35" stroke="#3fb36c" stroke-width="1.5" stroke-opacity="0.85"/>
<circle cx="715" cy="488.3" r="4.7" fill="#e6f7ec" fill-opacity="0.35" stroke="#3fb36c" stroke-width="1.5" stroke-opacity="0.85"/>
<circle cx="719" cy="475" r="4.7" fill="#e6f7ec" fill-opacity="0.35" stroke="#3fb36c" stroke-width="1.5" stroke-opacity="0.85"/>
<circle cx="744.2" cy="467.5" r="4.7" fill="#e6f7ec" fill-opacity="0.35" stroke="#3fb36c" stroke-width="1.5" stroke-opacity="0.85"/>
<circle cx="754.2" cy="470.4" r="4.7" fill="#e6f7ec" fill-opacity="0.35" stroke="#3fb36c" stroke-width="1.5" stroke-opacity="0.85"/>
<circle cx="741.7" cy="475.8" r="4.7" fill="#e6f7ec" fill-opacity="0.35" stroke="#3fb36c" stroke-width="1.5" stroke-opacity="0.85"/>
<circle cx="750" cy="477.5" r="4.7" fill="#e6f7ec" fill-opacity="0.35" stroke="#3fb36c" stroke-width="1.5" stroke-opacity="0.85"/>
<circle cx="746.7" cy="484.2" r="4.7" fill="#e6f7ec" fill-opacity="0.35" stroke="#3fb36c" stroke-width="1.5" stroke-opacity="0.85"/>
<circle cx="755.8" cy="482.5" r="4.7" fill="#e6f7ec" fill-opacity="0.35" stroke="#3fb36c" stroke-width="1.5" stroke-opacity="0.85"/>
<circle cx="759.2" cy="482.5" r="4.7" fill="#e6f7ec" fill-opacity="0.35" stroke="#3fb36c" stroke-width="1.5" stroke-opacity="0.85"/>
<circle cx="750" cy="490.8" r="4.7" fill="#e6f7ec" fill-opacity="0.35" stroke="#3fb36c" stroke-width="1.5" stroke-opacity="0.85"/>
<circle cx="759.2" cy="490.8" r="4.7" fill="#e6f7ec" fill-opacity="0.35" stroke="#3fb36c" stroke-width="1.5" stroke-opacity="0.85"/>
<circle cx="761.7" cy="485.8" r="4.7" fill="#e6f7ec" fill-opacity="0.35" stroke="#3fb36c" stroke-width="1.5" stroke-opacity="0.85"/>
<circle cx="755" cy="488.3" r="4.7" fill="#e6f7ec" fill-opacity="0.35" stroke="#3fb36c" stroke-width="1.5" stroke-opacity="0.85"/>
</g>
<line x1="701.3" y1="450.5" x2="720" y2="483.3" stroke="#2e2e2e" stroke-width="1.7"/>
<line x1="680.7" y1="472.5" x2="716" y2="490.8" stroke="#2e2e2e" stroke-width="1.7"/>
<line x1="668.3" y1="498.2" x2="717" y2="498.2" stroke="#2e2e2e" stroke-width="1.7"/>
<line x1="670.3" y1="530.6" x2="728.7" y2="492.7" stroke="#2e2e2e" stroke-width="1.7"/>
<line x1="687.1" y1="560.3" x2="728.7" y2="492.7" stroke="#2e2e2e" stroke-width="1.7"/>
<line x1="728.9" y1="579" x2="728.9" y2="500" stroke="#2e2e2e" stroke-width="1.7"/>
<line x1="765.9" y1="562.9" x2="728.7" y2="492.7" stroke="#2e2e2e" stroke-width="1.7"/>
<line x1="786.6" y1="529.3" x2="728.7" y2="492.7" stroke="#2e2e2e" stroke-width="1.7"/>
<line x1="789.2" y1="498.2" x2="740" y2="498.2" stroke="#2e2e2e" stroke-width="1.7"/>
<line x1="777.5" y1="473.75" x2="741.5" y2="491.5" stroke="#2e2e2e" stroke-width="1.7"/>
<line x1="759.5" y1="453" x2="736.7" y2="485.8" stroke="#2e2e2e" stroke-width="1.7"/>
<path d="M722.3 429 L722.3 484.6 L716.3 490.5 A13.2 13.2 0 1 0 741.2 490.5 L735.1 484.6 L735.1 429 Z" fill="#fff"/>
<path d="M722.3 381 L722.3 484.6 L716.3 490.5 A13.2 13.2 0 1 0 741.2 490.5 L735.1 484.6 L735.1 377" fill="none" stroke="#2e2e2e" stroke-width="1.5" stroke-linejoin="round"/>
<defs><radialGradient id="glow" gradientUnits="userSpaceOnUse" cx="566" cy="534" r="105" gradientTransform="translate(566 534) scale(1 0.5) translate(-566 -534)"><stop offset="0%" stop-color="#f9e4c2"/><stop offset="55%" stop-color="#fbead2"/><stop offset="100%" stop-color="#fdf4e8"/></radialGradient><filter id="gb" x="-10%" y="-50%" width="120%" height="200%"><feGaussianBlur stdDeviation="1.3"/></filter></defs>
<polygon points="464,529 512,528 474,520 520,525 543,520 570,524 596,515 605,525 631,522 622,528 662,529 618,533 657,537 620,538 624,545 600,542 583,548 560,543 541,550 520,541 466,538 512,534" fill="url(#glow)" filter="url(#gb)"/>
<path d="M519.4 456.2 C497 458 486 472 488 484 C489 492 492 498 494.9 502 L500.5 472 Z" fill="#fff" stroke="#2e2e2e" stroke-width="1.4" stroke-linejoin="round"/>
<path d="M526.4 455.6 C548 458 558 472 556.2 484 C555 492 553 497 550.9 501.2 L545 471.5 Z" fill="#fff" stroke="#2e2e2e" stroke-width="1.4" stroke-linejoin="round"/>
<path d="M495.8 505.5 C500 518 510 524 522 524 C534 524 544 518 547.4 505.5 L522 512.6 Z" fill="#fff" stroke="#2e2e2e" stroke-width="1.4" stroke-linejoin="round"/>
<circle cx="520.3" cy="462.6" r="1.35" fill="#1d1d1d"/>
<circle cx="525.5" cy="462.6" r="1.35" fill="#1d1d1d"/>
<circle cx="519.4" cy="467" r="1.35" fill="#1d1d1d"/>
<circle cx="522.9" cy="467" r="1.35" fill="#1d1d1d"/>
<circle cx="509.8" cy="468.8" r="1.35" fill="#1d1d1d"/>
<circle cx="530.8" cy="471.4" r="1.35" fill="#1d1d1d"/>
<circle cx="520.3" cy="472.3" r="1.35" fill="#1d1d1d"/>
<circle cx="507.1" cy="476.7" r="1.35" fill="#1d1d1d"/>
<circle cx="517.6" cy="477.5" r="1.35" fill="#1d1d1d"/>
<circle cx="524.7" cy="477.5" r="1.35" fill="#1d1d1d"/>
<circle cx="533.4" cy="475.8" r="1.35" fill="#1d1d1d"/>
<circle cx="513.3" cy="484.5" r="1.35" fill="#1d1d1d"/>
<circle cx="508" cy="483.7" r="1.35" fill="#1d1d1d"/>
<circle cx="502.8" cy="487.2" r="1.35" fill="#1d1d1d"/>
<circle cx="519.4" cy="486.3" r="1.35" fill="#1d1d1d"/>
<circle cx="527.3" cy="485.4" r="1.35" fill="#1d1d1d"/>
<circle cx="534.3" cy="485.4" r="1.35" fill="#1d1d1d"/>
<circle cx="541.3" cy="487.2" r="1.35" fill="#1d1d1d"/>
<circle cx="508.9" cy="492.4" r="1.35" fill="#1d1d1d"/>
<circle cx="515" cy="491.5" r="1.35" fill="#1d1d1d"/>
<circle cx="522.9" cy="492.4" r="1.35" fill="#1d1d1d"/>
<circle cx="529" cy="493.3" r="1.35" fill="#1d1d1d"/>
<circle cx="514.1" cy="496.8" r="1.35" fill="#1d1d1d"/>
<circle cx="521.1" cy="496.8" r="1.35" fill="#1d1d1d"/>
<circle cx="502.8" cy="501.2" r="1.35" fill="#1d1d1d"/>
<circle cx="508" cy="502" r="1.35" fill="#1d1d1d"/>
<circle cx="517.6" cy="500.3" r="1.35" fill="#1d1d1d"/>
<circle cx="523.8" cy="501.2" r="1.35" fill="#1d1d1d"/>
<circle cx="529" cy="501.2" r="1.35" fill="#1d1d1d"/>
<circle cx="536" cy="498.5" r="1.35" fill="#1d1d1d"/>
<circle cx="542.2" cy="499.4" r="1.35" fill="#1d1d1d"/>
<circle cx="515.9" cy="505.5" r="1.35" fill="#1d1d1d"/>
<circle cx="525.5" cy="507.3" r="1.35" fill="#1d1d1d"/>
<circle cx="536" cy="504.7" r="1.35" fill="#1d1d1d"/>
<circle cx="522" cy="483.7" r="1.35" fill="#1d1d1d"/>
<circle cx="535.9" cy="433.3" r="1.35" fill="#1d1d1d"/>
<circle cx="510.8" cy="435.6" r="1.35" fill="#1d1d1d"/>
<circle cx="519" cy="438" r="1.35" fill="#1d1d1d"/>
<circle cx="526" cy="436.8" r="1.35" fill="#1d1d1d"/>
<circle cx="531.8" cy="439" r="1.35" fill="#1d1d1d"/>
<circle cx="537.7" cy="439.7" r="1.35" fill="#1d1d1d"/>
<circle cx="541.2" cy="438" r="1.35" fill="#1d1d1d"/>
<circle cx="546.4" cy="436.8" r="1.35" fill="#1d1d1d"/>
<circle cx="549.2" cy="441.6" r="1.35" fill="#1d1d1d"/>
<circle cx="516.8" cy="442.5" r="1.35" fill="#1d1d1d"/>
<circle cx="530.8" cy="442.5" r="1.35" fill="#1d1d1d"/>
<circle cx="511.5" cy="446.9" r="1.35" fill="#1d1d1d"/>
<circle cx="522.9" cy="449.5" r="1.35" fill="#1d1d1d"/>
<circle cx="530.8" cy="446.9" r="1.35" fill="#1d1d1d"/>
<circle cx="539.5" cy="446" r="1.35" fill="#1d1d1d"/>
<circle cx="544.8" cy="445.1" r="1.35" fill="#1d1d1d"/>
<circle cx="510.6" cy="451.3" r="1.35" fill="#1d1d1d"/>
<circle cx="537.8" cy="450.4" r="1.35" fill="#1d1d1d"/>
<circle cx="543" cy="452.1" r="1.35" fill="#1d1d1d"/>
<circle cx="522" cy="453.9" r="1.35" fill="#1d1d1d"/>
<circle cx="489.6" cy="504.7" r="1.35" fill="#1d1d1d"/>
<circle cx="493.1" cy="511.7" r="1.35" fill="#1d1d1d"/>
<circle cx="487" cy="513.4" r="1.35" fill="#1d1d1d"/>
<circle cx="491.4" cy="519.6" r="1.35" fill="#1d1d1d"/>
<circle cx="552.7" cy="503.8" r="1.35" fill="#1d1d1d"/>
<circle cx="557" cy="507.3" r="1.35" fill="#1d1d1d"/>
<circle cx="564" cy="503.8" r="1.35" fill="#1d1d1d"/>
<circle cx="553.5" cy="510" r="1.35" fill="#1d1d1d"/>
<circle cx="561.4" cy="510.8" r="1.35" fill="#1d1d1d"/>
<circle cx="565.8" cy="521.3" r="1.35" fill="#1d1d1d"/>
<circle cx="558.9" cy="515.7" r="1.35" fill="#1d1d1d"/>
<defs><radialGradient id="lym" gradientUnits="userSpaceOnUse" cx="590" cy="502" r="14"><stop offset="0%" stop-color="#ffffff"/><stop offset="40%" stop-color="#d9effa"/><stop offset="100%" stop-color="#8fcdee"/></radialGradient></defs>
<ellipse cx="593.6" cy="500.5" rx="16" ry="13.9" fill="#f3fafe" stroke="#bfe0f3" stroke-width="1.9"/>
<ellipse cx="593.3" cy="500.8" rx="12.8" ry="11.4" fill="url(#lym)"/>
<path d="M592.5 489.5 C600 489.5 606 494.5 605.8 501 C605.5 504.5 603.5 506.5 600.5 506.5 C598.5 503 597.5 500 596 496 C595 493 594 491 592.5 489.5 Z" fill="#e3c9ec" opacity="0.9"/>
<g transform="rotate(25 642.8 507.2)"><ellipse cx="642.8" cy="507.2" rx="19.3" ry="15.4" fill="#f9d9cb" stroke="#ef9f8a" stroke-width="2.2"/></g>
<path d="M628.00 498.25 Q628.50 496.50 631.65 496.05 Q634.80 495.60 636.05 496.93 Q637.30 498.25 636.90 500.18 Q636.50 502.10 634.75 503.85 Q633.00 505.60 632.85 506.65 Q632.70 507.70 634.10 508.40 Q635.50 509.10 637.25 508.55 Q639.00 508.00 639.70 509.25 Q640.40 510.50 641.10 512.25 Q641.80 514.00 643.20 514.35 Q644.60 514.70 645.30 513.65 Q646.00 512.60 647.40 513.30 Q648.80 514.00 649.75 515.40 Q650.70 516.80 650.55 518.30 Q650.40 519.80 648.55 520.20 Q646.70 520.60 643.90 519.90 Q641.10 519.20 637.95 517.40 Q634.80 515.60 632.35 513.15 Q629.90 510.70 628.70 507.80 Q627.50 504.90 627.50 502.45 Q627.50 500.00 628.00 498.25 Z" fill="#1f6ec0"/>
<circle cx="641.8" cy="498.6" r="1.45" fill="#de4f5f"/>
<circle cx="648.8" cy="499" r="1.45" fill="#de4f5f"/>
<circle cx="642.1" cy="503.8" r="1.45" fill="#de4f5f"/>
<circle cx="648.1" cy="502.8" r="1.45" fill="#de4f5f"/>
<circle cx="653.7" cy="502.4" r="1.45" fill="#de4f5f"/>
<circle cx="655.8" cy="506.6" r="1.45" fill="#de4f5f"/>
<circle cx="647.4" cy="508.7" r="1.45" fill="#de4f5f"/>
<circle cx="653" cy="512.2" r="1.45" fill="#de4f5f"/>
<text x="345.5" y="20.8" font-size="20.2" fill="#222" stroke="#222" stroke-width="0.18" text-anchor="start">Normal</text>
<text x="495.3" y="31.5" font-size="20.2" fill="#22a85c" stroke="#22a85c" stroke-width="0.18" text-anchor="start">MUC5AC + MUC5B</text>
<text x="319.9" y="171.6" font-size="20.2" fill="#222" stroke="#222" stroke-width="0.18" text-anchor="start">Basal</text>
<text x="329.9" y="194.5" font-size="20.2" fill="#222" stroke="#222" stroke-width="0.18" text-anchor="start">cell</text>
<text x="412.8" y="171.6" font-size="20.2" fill="#222" stroke="#222" stroke-width="0.18" text-anchor="start">Goblet</text>
<text x="428.4" y="194.5" font-size="20.2" fill="#222" stroke="#222" stroke-width="0.18" text-anchor="start">cell</text>
<text x="491.3" y="171.25" font-size="20.2" fill="#222" stroke="#222" stroke-width="0.18" text-anchor="start">Ciliated</text>
<text x="509.55" y="195" font-size="20.2" fill="#222" stroke="#222" stroke-width="0.18" text-anchor="start">cell</text>
<text x="692.3" y="121.5" font-size="20.2" fill="#222" stroke="#222" stroke-width="0.18" text-anchor="start">Mucous</text>
<text x="712.5" y="144.5" font-size="20.2" fill="#222" stroke="#222" stroke-width="0.18" text-anchor="start">cell</text>
<text x="786.6" y="167.7" font-size="20.2" fill="#222" stroke="#222" stroke-width="0.18" text-anchor="start">Submucosal</text>
<text x="786.9" y="190.5" font-size="20.2" fill="#222" stroke="#222" stroke-width="0.18" text-anchor="start">gland</text>
<text x="700" y="206" font-size="20.2" fill="#222" stroke="#222" stroke-width="0.18" text-anchor="start">Serous</text>
<text x="717" y="229.5" font-size="20.2" fill="#222" stroke="#222" stroke-width="0.18" text-anchor="start">cell</text>
<text x="427" y="294.5" font-size="20.2" fill="#222" stroke="#222" stroke-width="0.18" text-anchor="start">Asthma</text>
<text x="459.25" y="320" font-size="20.2" fill="#22a85c" stroke="#22a85c" stroke-width="0.18" text-anchor="start">lcgf-MUC5B</text>
<text x="584.4" y="320" font-size="20.2" fill="#22a85c" stroke="#22a85c" stroke-width="0.18" text-anchor="start">MUC5AC &gt;&gt; MUC2</text>
<text x="554.1" y="447.5" font-size="20.2" fill="#222" stroke="#222" stroke-width="0.18" text-anchor="start">Plasma</text>
<text x="554.3" y="471.3" font-size="20.2" fill="#222" stroke="#222" stroke-width="0.18" text-anchor="start">exudation</text>
<text x="508" y="540" font-size="20.2" fill="#222" stroke="#222" stroke-width="0.18" text-anchor="start">Inflammation</text>
</svg>
</body></html>
